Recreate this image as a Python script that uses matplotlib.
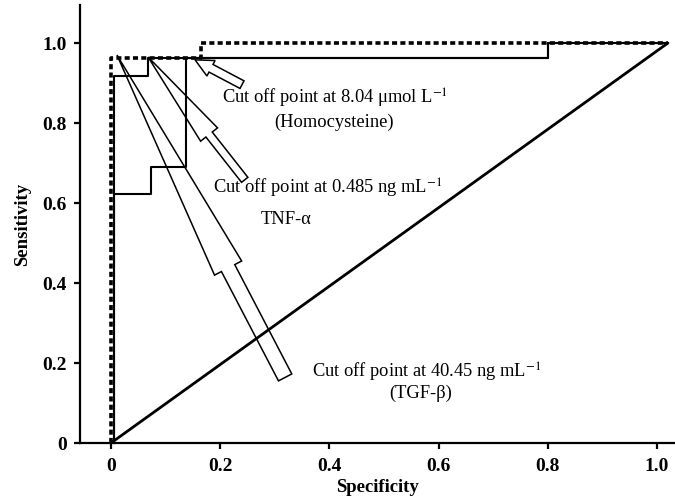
import matplotlib
matplotlib.use("Agg")
import matplotlib.pyplot as plt
from matplotlib.patches import FancyArrowPatch, ArrowStyle

plt.rcParams['font.family'] = ['Liberation Serif', 'DejaVu Serif']
plt.rcParams['mathtext.fontset'] = 'stix'

# ROC curves (x = specificity axis, y = sensitivity)
spec_1 = [0.005, 0.005, 0.073, 0.073, 0.137, 0.137, 0.8, 0.8, 1.02]
sens_1 = [0.0, 0.6225, 0.6225, 0.69, 0.69, 0.963, 0.963, 1.0, 1.0]
spec_2 = [0.005, 0.005, 0.067, 0.067, 0.8, 0.8, 1.02]
sens_2 = [0.0, 0.917, 0.917, 0.963, 0.963, 1.0, 1.0]
spec_3 = [0.0, 0.0, 0.165, 0.165, 1.02]
sens_3 = [0.0, 0.963, 0.963, 1.0, 1.0]
ref_spec = [0.0, 1.02]
ref_sens = [0.0, 1.0]

ticks = [0, 0.2, 0.4, 0.6, 0.8, 1.0]
tick_labels = ['0', '0.2', '0.4', '0.6', '0.8', '1.0']

# cut-off arrows: (tail, tip)
hcy_arrow = ((0.240, 0.896), (0.154, 0.958))
tnf_arrow = ((0.245, 0.658), (0.068, 0.965))
tgf_arrow = ((0.319, 0.164), (0.011, 0.970))

fig = plt.figure(figsize=(6.75, 5.04), dpi=100)
ax = fig.add_axes([0.1185, 0.121, 0.8815, 0.869])

ax.plot(ref_spec, ref_sens, color='black', lw=2.0, solid_capstyle='butt')
ax.plot(spec_3, sens_3, color='black', lw=2.6, dashes=(1.4, 0.9), clip_on=False)
ax.plot(spec_1, sens_1, color='black', lw=1.5, clip_on=False)
ax.plot(spec_2, sens_2, color='black', lw=1.5, clip_on=False)

def add_arrow(tail, tip, hl, hw, tw):
    style = ArrowStyle.Simple(head_length=hl, head_width=hw, tail_width=tw)
    p = FancyArrowPatch(posA=tail, posB=tip, arrowstyle=style, mutation_scale=1,
                        shrinkA=0, shrinkB=0, fill=False, ec='black', lw=1.1,
                        joinstyle='miter')
    ax.add_patch(p)

add_arrow(*hcy_arrow, 13, 12.6, 6.2)
add_arrow(*tnf_arrow, 71, 15.5, 5.8)
add_arrow(*tgf_arrow, 173, 22, 10.8)

fs = 13.3
ax.text(0.411, 0.8625, r'Cut off point at 8.04 μmol L$^{-1}$', ha='center', va='center', fontsize=fs)
ax.text(0.409, 0.8025, '(Homocysteine)', ha='center', va='center', fontsize=fs)
ax.text(0.397, 0.6375, r'Cut off point at 0.485 ng mL$^{-1}$', ha='center', va='center', fontsize=fs)
ax.text(0.32, 0.56, 'TNF-α', ha='center', va='center', fontsize=fs)
ax.text(0.578, 0.1775, r'Cut off point at 40.45 ng mL$^{-1}$', ha='center', va='center', fontsize=fs)
ax.text(0.567, 0.125, '(TGF-β)', ha='center', va='center', fontsize=fs)

ax.set_xlim(-0.0567, 1.033)
ax.set_ylim(0, 1.095)
ax.set_xticks(ticks)
ax.set_xticklabels(tick_labels)
ax.set_yticks(ticks)
ax.set_yticklabels(tick_labels)
ax.spines['top'].set_visible(False)
ax.spines['right'].set_visible(False)
for s in ('left', 'bottom'):
    ax.spines[s].set_linewidth(1.6)
ax.tick_params(width=1.6, length=4.5, labelsize=14)
ax.tick_params(axis='x', pad=6)
ax.tick_params(axis='y', pad=5)
for lab in ax.get_xticklabels() + ax.get_yticklabels():
    lab.set_fontweight('bold')
ax.set_xlabel('Specificity', fontsize=13.5, fontweight='bold', labelpad=3)
ax.set_ylabel('Sensitivity', fontsize=13.5, fontweight='bold', labelpad=8)

fig.savefig('out.png', dpi=100)
